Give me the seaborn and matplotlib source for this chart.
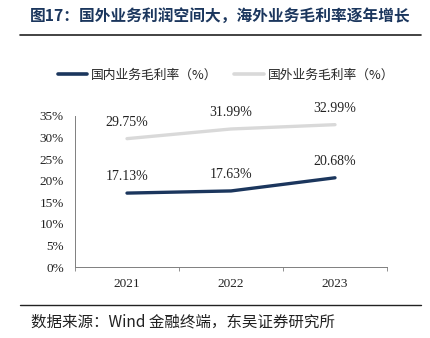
import matplotlib
matplotlib.use("Agg")
import matplotlib.pyplot as plt
import seaborn as sns
import pandas as pd
from matplotlib.ticker import FixedLocator, PercentFormatter
from matplotlib.lines import Line2D

years = ["2021", "2022", "2023"]
domestic = [17.13, 17.63, 20.68]
foreign = [29.75, 31.99, 32.99]
series_names = ["国内业务毛利率（%）", "国外业务毛利率（%）"]
title = "图17：国外业务利润空间大，海外业务毛利率逐年增长"
source = "数据来源：Wind 金融终端，东吴证券研究所"

sns.set_theme(style="white")
FAM = ["Liberation Serif", "Noto Sans CJK SC", "DejaVu Sans"]
CJK = ["Noto Sans CJK SC", "DejaVu Sans"]
plt.rcParams["font.family"] = FAM

df = pd.DataFrame({
    "year": years * 2,
    "x": list(range(len(years))) * 2,
    "value": domestic + foreign,
    "series": [series_names[0]] * 3 + [series_names[1]] * 3,
})

fig = plt.figure(figsize=(4.31, 3.38), dpi=100)
ax = fig.add_axes([75 / 431, 1 - 267 / 338, 312 / 431, 151 / 338])

palette = {series_names[0]: "#1B365D", series_names[1]: "#D9D9D9"}
sns.lineplot(data=df, x="x", y="value", hue="series", palette=palette,
             linewidth=2.4, ax=ax, legend=False, sort=False)

for vals in (domestic, foreign):
    for i, v in enumerate(vals):
        ax.annotate(f"{v:.2f}%", (i, v), xytext=(0, 7), textcoords="offset points",
                    ha="center", va="bottom", fontsize=10, color="#222222")

ax.set_xlim(-0.5, 2.5)
ax.set_ylim(0, 35)
ax.set_yticks(range(0, 36, 5))
ax.yaxis.set_major_formatter(PercentFormatter(decimals=0))
ax.set_xticks(range(len(years)))
ax.set_xticklabels(years)
ax.xaxis.set_minor_locator(FixedLocator([-0.5, 0.5, 1.5, 2.5]))
ax.tick_params(axis="x", which="major", length=0, labelsize=9.5, pad=8, colors="#222222")
ax.tick_params(axis="x", which="minor", length=3, width=0.6, color="#7F7F7F", direction="out", bottom=True)
ax.tick_params(axis="y", which="major", length=0, labelsize=9.5, pad=8, colors="#222222")
ax.set_xlabel("")
ax.set_ylabel("")
for s in ["top", "right"]:
    ax.spines[s].set_visible(False)
for s in ["left", "bottom"]:
    ax.spines[s].set_color("#7F7F7F")
    ax.spines[s].set_linewidth(0.7)

handles = [Line2D([0], [0], color=palette[n], lw=2.6) for n in series_names]
fig.legend(handles, series_names, loc="center", bbox_to_anchor=(226 / 431, 1 - 75 / 338),
           ncol=2, frameon=False, handlelength=2.3, handletextpad=0.3,
           columnspacing=1.3, prop={"family": CJK, "size": 9.2})

fig.text(220 / 431, 1 - 16 / 338, title, ha="center", va="center", fontsize=11.3,
         fontweight="bold", color="#1B365D", family=CJK)
fig.add_artist(Line2D([20 / 431, 421 / 431], [1 - 35 / 338] * 2, color="#222222", lw=1.2))
fig.add_artist(Line2D([20 / 431, 421 / 431], [1 - 305 / 338] * 2, color="#222222", lw=1.0))
fig.text(31 / 431, 1 - 322 / 338, source, ha="left", va="center", fontsize=11.2,
         color="#222222", family=CJK)

fig.savefig("out.png", dpi=100)
